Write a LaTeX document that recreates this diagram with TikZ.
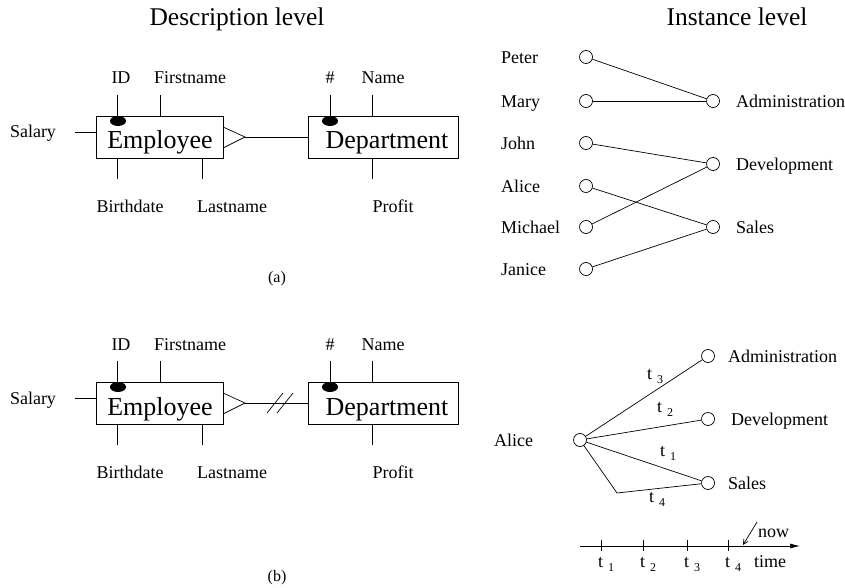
\documentclass[tikz,border=0pt]{standalone}
\usepackage{fontspec}
\setmainfont{Liberation Serif}
\usetikzlibrary{shapes.geometric,arrows.meta}
\newcommand{\tsub}[1]{t\hspace{5pt}\raisebox{-4pt}{\fontsize{12}{12}\selectfont #1}}
\tikzset{
 lbl/.style={font=\fontsize{18}{20}\selectfont, inner sep=0, anchor=base},
 lbll/.style={lbl, anchor=base west},
 ttl/.style={font=\fontsize{25.5}{28}\selectfont, inner sep=0, anchor=base},
 capt/.style={font=\fontsize{16}{18}\selectfont, inner sep=0, anchor=base},
 ent/.style={draw, line width=0.7pt, minimum height=42pt, inner sep=0},
 entlbl/.style={font=\fontsize{26}{28}\selectfont, inner sep=0, anchor=base},
 inst/.style={circle, draw, line width=0.7pt, fill=white, minimum size=13pt, inner sep=0},
 key/.style={ellipse, fill=black, minimum width=16pt, minimum height=10pt, inner sep=0},
 ln/.style={line width=0.7pt},
}
\begin{document}
\begin{tikzpicture}[x=1pt,y=-1pt]
\useasboundingbox (0,0) rectangle (845,588);
% titles
\node[ttl] (t1) at (237,26) {Description level};
\node[ttl] (t2) at (737,26) {Instance level};

% ---------- (a) and (b) ----------
\foreach \dy/\s in {0/a,266/b}{
 \begin{scope}[yshift=-\dy pt]
 \node[ent, minimum width=127pt] (emp\s) at (159.5,137) {};
 \node[ent, minimum width=150pt] (dep\s) at (383,137) {};
 \node[entlbl] (empl\s) at (160,149) {Employee};
 \node[entlbl] (depl\s) at (387,149) {Department};
 \node[key] (k1\s) at (118,121) {};
 \node[key] (k2\s) at (330,121) {};
 \coordinate (idt\s) at (117,95);
 \coordinate (fnt\s) at (160,95);
 \coordinate (sal\s) at (75,132);
 \coordinate (bdb\s) at (117,179);
 \coordinate (lnb\s) at (202,179);
 \coordinate (hst\s) at (330,95);
 \coordinate (nmt\s) at (372,95);
 \coordinate (prb\s) at (372,179);
 \draw[ln] (idt\s) -- (idt\s |- emp\s.north);
 \draw[ln] (fnt\s) -- (fnt\s |- emp\s.north);
 \draw[ln] (sal\s) -- (sal\s -| emp\s.west);
 \draw[ln] (bdb\s) -- (bdb\s |- emp\s.south);
 \draw[ln] (lnb\s) -- (lnb\s |- emp\s.south);
 \draw[ln] (hst\s) -- (hst\s |- dep\s.north);
 \draw[ln] (nmt\s) -- (nmt\s |- dep\s.north);
 \draw[ln] (prb\s) -- (prb\s |- dep\s.south);
 \node[lbl] (lid\s) at (121,84) {ID};
 \node[lbl] (lfn\s) at (190,84) {Firstname};
 \node[lbl] (lsa\s) at (33,138) {Salary};
 \node[lbl] (lbd\s) at (130,212) {Birthdate};
 \node[lbl] (lln\s) at (232,212) {Lastname};
 \node[lbl] (lhs\s) at (330,84) {\#};
 \node[lbl] (lnm\s) at (383,84) {Name};
 \node[lbl] (lpr\s) at (393,212) {Profit};
 \coordinate (cfa\s) at (223,127);
 \coordinate (cfb\s) at (223,148);
 \coordinate (cf\s) at (245,137);
 \draw[ln] (cfa\s) -- (cf\s) -- (cfb\s);
 \draw[ln] (cf\s) -- (dep\s.west);
 \end{scope}
}
\draw[ln] (267,413) -- (283,393);
\draw[ln] (277,413) -- (293,393);
\node[capt] (ca) at (277,282) {(a)};
\node[capt] (cb) at (277,581) {(b)};

% ---------- instance level (a) ----------
\foreach \n/\y/\t in {1/57/Peter,2/101/Mary,3/143/John,4/186/Alice,5/227/Michael,6/269/Janice}{
 \node[inst] (p\n) at (586,\y) {};
 \node[lbll] (pn\n) at (501,\y+6.5) {\t};
}
\foreach \n/\y/\t in {1/101/Administration,2/164/Development,3/227/Sales}{
 \node[inst] (d\n) at (713,\y) {};
 \node[lbll] (dn\n) at (736,\y+6.5) {\t};
}
\draw[ln] (p1) -- (d1);
\draw[ln] (p2) -- (d1);
\draw[ln] (p3) -- (d2);
\draw[ln] (p5) -- (d2);
\draw[ln] (p4) -- (d3);
\draw[ln] (p6) -- (d3);

% ---------- instance level (b) ----------
\node[inst] (al) at (580,440) {};
\node[lbll] (aln) at (494,446.5) {Alice};
\node[inst] (ad) at (708,356) {};
\node[inst] (dv) at (708,419) {};
\node[inst] (sa) at (708,483) {};
\node[lbll] (adn) at (728,362.5) {Administration};
\node[lbll] (dvn) at (731,425.5) {Development};
\node[lbll] (san) at (728,489.5) {Sales};
\coordinate (cor) at (617,493);
\draw[ln] (al) -- (ad);
\draw[ln] (al) -- (dv);
\draw[ln] (al) -- (sa);
\draw[ln] (al) -- (cor) -- (sa);
\node[lbll] (l3) at (647,379) {\tsub{3}};
\node[lbll] (l2) at (657,412) {\tsub{2}};
\node[lbll] (l1) at (660,456) {\tsub{1}};
\node[lbll] (l4) at (649,502) {\tsub{4}};

% time axis
\coordinate (ta) at (580,546);
\coordinate (tb) at (800,546);
\draw[ln,-{Latex[length=10pt,width=5pt]}] (ta) -- (tb);
\foreach \x/\i in {601/1,643/2,687/3,728/4}{
 \coordinate (tk\i) at (\x,540);
 \draw[ln] (tk\i) -- (\x,551);
 \node[lbll] (tl\i) at (\x-3,567) {\tsub{\i}};
}
\node[lbll] (tim) at (754,567) {time};
\coordinate (nw) at (757,522);
\coordinate (nwe) at (743,545);
\draw[ln,-{Straight Barb[length=5pt,width=5pt]}] (nw) -- (nwe);
\node[lbll] (nown) at (758,537) {now};
\end{tikzpicture}
\end{document}
